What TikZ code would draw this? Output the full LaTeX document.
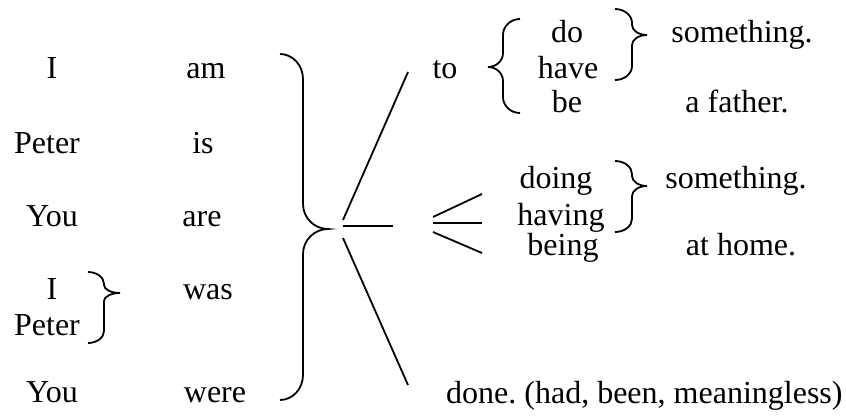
\documentclass[tikz,border=0pt]{standalone}
\usepackage{fontspec}
\setmainfont{Liberation Serif}
\frenchspacing
% x0,y0,xv,yt,xt,y1,r(end hook height),m(middle height)
\newcommand{\brc}[8]{%
\draw[brcline] (#1,#2) .. controls ({#1+0.55*(#3-#1)},#2) and (#3,{#2+0.45*#7}) .. (#3,{#2+#7})
  -- (#3,{#4-#8}) .. controls (#3,{#4-0.45*#8}) and ({#3+0.45*(#5-#3)},#4) .. (#5,#4)
  .. controls ({#3+0.45*(#5-#3)},#4) and (#3,{#4+0.45*#8}) .. (#3,{#4+#8})
  -- (#3,{#6-#7}) .. controls (#3,{#6-0.45*#7}) and ({#1+0.55*(#3-#1)},#6) .. (#1,#6);}
\begin{document}
\begin{tikzpicture}[x=1pt,y=-1pt,
  txt/.style={anchor=base,inner sep=0pt,font=\fontsize{32}{38}\selectfont},
  brcline/.style={line width=1.8pt},
  fan/.style={line width=1.8pt}]
\useasboundingbox (0,0) rectangle (846,416);
% left column
\node[txt] (i1) at (52,78) {I};
\node[txt] (am) at (206,78) {am};
\node[txt] (p1) at (47,153) {Peter};
\node[txt] (is) at (203,153) {is};
\node[txt] (y1) at (52,226) {You};
\node[txt] (are) at (202,226) {are};
\node[txt] (i2) at (52,299) {I};
\node[txt] (was) at (208,299) {was};
\node[txt] (p2) at (47,335) {Peter};
\node[txt] (y2) at (52,402) {You};
\node[txt] (were) at (215,402) {were};
% braces
\brc{88}{272}{104}{293}{120}{343}{12}{8}
\brc{280}{54}{303}{229}{328}{400}{25}{25}
% fan
\coordinate (f1a) at (343,220); \coordinate (f1b) at (408,72);
\coordinate (f2a) at (343,226); \coordinate (f2b) at (393,226);
\coordinate (f3a) at (343,238); \coordinate (f3b) at (408,385);
\draw[fan] (f1a) -- (f1b);
\draw[fan] (f2a) -- (f2b);
\draw[fan] (f3a) -- (f3b);
% to branch
\node[txt] (to) at (445,78) {to};
\brc{520}{19}{503}{67}{488}{113}{16}{14}
\node[txt] (do) at (567,42) {do};
\node[txt] (have) at (568,78) {have};
\node[txt] (be) at (567,112) {be};
\brc{615}{9}{632}{35}{647}{80}{14}{10}
\node[txt] (sth1) at (742,42) {something.};
\node[txt] (fath) at (737,112) {a father.};
% -ing branch
\coordinate (g1a) at (433,217); \coordinate (g1b) at (482,194);
\coordinate (g2a) at (433,223); \coordinate (g2b) at (482,223);
\coordinate (g3a) at (433,232); \coordinate (g3b) at (482,253);
\draw[fan] (g1a) -- (g1b);
\draw[fan] (g2a) -- (g2b);
\draw[fan] (g3a) -- (g3b);
\node[txt] (doing) at (556,188) {doing};
\node[txt] (having) at (561,225) {having};
\node[txt] (being) at (563,255) {being};
\brc{615}{161}{632}{186}{647}{232}{13}{10}
\node[txt] (sth2) at (736,188) {something.};
\node[txt] (home) at (741,255) {at home.};
% done
\node[txt,anchor=base west] (done) at (446,403) {done. (had, been, meaningless)};
\end{tikzpicture}
\end{document}
